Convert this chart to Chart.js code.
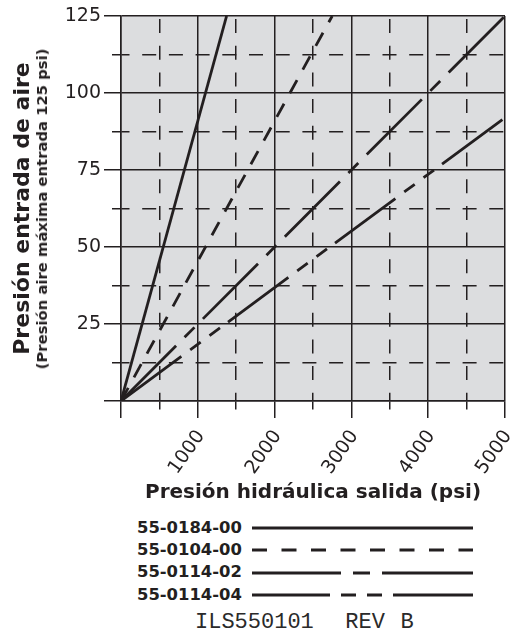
<!DOCTYPE html>
<html>
<head>
<meta charset="utf-8">
<script src="https://cdn.jsdelivr.net/npm/chart.js@4.4.1/dist/chart.umd.min.js"></script>
<style>
  html, body { margin: 0; padding: 0; background: #ffffff; }
  #wrap { position: relative; width: 516px; height: 631px; overflow: hidden; font-family: "DejaVu Sans", sans-serif; color: #231f20; }
  #chart { position: absolute; left: 0; top: 0; }
  #ysub { position: absolute; left: 42px; top: 209px; transform: translate(-50%, -50%) rotate(-90deg);
          white-space: nowrap; font-weight: bold; font-size: 14.8px; line-height: 16px; }
  .lg { position: absolute; left: 137px; height: 20px; line-height: 20px; font-weight: bold; font-size: 16.4px; white-space: nowrap; }
  .lgsvg { position: absolute; left: 252px; width: 222px; height: 8px; }
  #foot { position: absolute; left: 195px; top: 612px; font-family: "Liberation Mono", monospace; font-size: 22px; line-height: 22px; white-space: pre; word-spacing: 2.5px; color: #2a2a2a; }
</style>
</head>
<body>
<div id="wrap">
  <canvas id="chart" width="516" height="505"></canvas>
  <div id="ysub">(Presión aire máxima entrada 125 psi)</div>
  <div id="legend"></div>
  <div id="foot">ILS550101  REV B</div>
</div>
<script>
// ---- data ----
const seriesNames = ['55-0184-00', '55-0104-00', '55-0114-02', '55-0114-04'];
const hydraulicPsi_0184_00 = [0, 1375];
const airPsi_0184_00 = [0, 125];
const hydraulicPsi_0104_00 = [0, 2750];
const airPsi_0104_00 = [0, 125];
const hydraulicPsi_0114_02 = [0, 5000];
const airPsi_0114_02 = [0, 125];
const hydraulicPsi_0114_04 = [0, 5000];
const airPsi_0114_04 = [0, 92];
const xTickLabels = ['1000', '2000', '3000', '4000', '5000'];
const yTickLabels = ['25', '50', '75', '100', '125'];
const xTitle = 'Presión hidráulica salida (psi)';
const yTitle = 'Presión entrada de aire';

// ---- styles ----
const INK = '#231f20';
const PLOT_BG = '#dcdddf';
const lineDashes = [[], [15, 12], [78, 12, 14, 12], [75, 11, 13, 11, 13, 10]];
const legendDashes = ['none', '15 14.5', '89 12 17 12 400', '78 11 15 11 15 11 400'];

const xs = [hydraulicPsi_0184_00, hydraulicPsi_0104_00, hydraulicPsi_0114_02, hydraulicPsi_0114_04];
const ys = [airPsi_0184_00, airPsi_0104_00, airPsi_0114_02, airPsi_0114_04];

const datasets = seriesNames.map((name, i) => ({
  label: name,
  data: xs[i].map((x, k) => ({ x: x, y: ys[i][k] })),
  borderColor: INK,
  borderWidth: 2.8,
  borderDash: lineDashes[i],
  borderCapStyle: 'butt',
  pointRadius: 0,
  fill: false,
  tension: 0
}));

const isMajorX = v => v % 1000 === 0;
const isMajorY = v => v % 25 === 0;

const bgPlugin = {
  id: 'plotBg',
  beforeDraw(chart) {
    const a = chart.chartArea, c = chart.ctx;
    c.save();
    c.fillStyle = PLOT_BG;
    c.fillRect(a.left, a.top, a.right - a.left, a.bottom - a.top);
    c.restore();
  }
};

new Chart(document.getElementById('chart'), {
  type: 'line',
  data: { datasets },
  plugins: [bgPlugin],
  options: {
    responsive: false,
    animation: false,
    events: [],
    layout: { padding: { left: 0, top: 16, right: 11, bottom: 0 } },
    plugins: { legend: { display: false }, tooltip: { enabled: false } },
    scales: {
      x: {
        type: 'linear', min: 0, max: 5000,
        ticks: {
          stepSize: 500, autoSkip: false, minRotation: 55, maxRotation: 55,
          padding: 8, labelOffset: 3,
          color: INK, font: { family: 'DejaVu Sans', size: 19 },
          callback: v => xTickLabels.includes(String(v)) ? String(v) : ''
        },
        grid: {
          color: INK, lineWidth: 1.5, tickLength: 17, tickColor: INK, tickWidth: 1.5,
          tickBorderDash: ctx => (ctx.tick && !isMajorX(ctx.tick.value)) ? [8, 100] : []
        },
        border: {
          display: true, color: INK, width: 1.5,
          dash: ctx => (ctx.tick && !isMajorX(ctx.tick.value)) ? [14, 12.7] : [],
          dashOffset: 23.7
        },
        title: {
          display: true, text: xTitle, color: INK,
          font: { family: 'DejaVu Sans', size: 20, weight: 'bold' },
          padding: { top: 0, bottom: 0 }
        },
        afterFit: s => { s.height = 104; s.paddingLeft = 0; s.paddingRight = 0; }
      },
      y: {
        type: 'linear', min: 0, max: 125,
        ticks: {
          stepSize: 12.5, autoSkip: false, padding: 3,
          color: INK, font: { family: 'DejaVu Sans', size: 19 },
          callback: v => yTickLabels.includes(String(v)) ? String(v) : ''
        },
        grid: {
          color: INK, lineWidth: 1.5, tickLength: 17, tickColor: INK, tickWidth: 1.5,
          tickBorderDash: ctx => (ctx.tick && !isMajorY(ctx.tick.value)) ? [0, 8, 9, 100] : []
        },
        border: {
          display: true, color: INK, width: 1.5,
          dash: ctx => (ctx.tick && !isMajorY(ctx.tick.value)) ? [14, 12.7] : [],
          dashOffset: 6
        },
        title: {
          display: true, text: yTitle, color: INK,
          font: { family: 'DejaVu Sans', size: 22, weight: 'bold' },
          padding: { top: 10, bottom: 0 }
        },
        afterFit: s => { s.width = 121; s.paddingTop = 0; s.paddingBottom = 0; }
      }
    }
  }
});

// ---- legend (HTML text + line samples) ----
const legendRowsCenter = [527.5, 549.5, 572, 594.5];
const legend = document.getElementById('legend');
seriesNames.forEach((name, i) => {
  const t = document.createElement('div');
  t.className = 'lg';
  t.style.top = (legendRowsCenter[i] - 9.7) + 'px';
  t.textContent = name;
  legend.appendChild(t);
  const svgNS = 'http://www.w3.org/2000/svg';
  const svg = document.createElementNS(svgNS, 'svg');
  svg.setAttribute('class', 'lgsvg');
  svg.setAttribute('width', '222');
  svg.setAttribute('height', '8');
  svg.style.top = (legendRowsCenter[i] + 0.8 - 4) + 'px';
  const ln = document.createElementNS(svgNS, 'line');
  ln.setAttribute('x1', '0'); ln.setAttribute('y1', '4');
  ln.setAttribute('x2', '221'); ln.setAttribute('y2', '4');
  ln.setAttribute('stroke', INK);
  ln.setAttribute('stroke-width', '3');
  if (legendDashes[i] !== 'none') ln.setAttribute('stroke-dasharray', legendDashes[i]);
  svg.appendChild(ln);
  legend.appendChild(svg);
});
</script>
</body>
</html>
